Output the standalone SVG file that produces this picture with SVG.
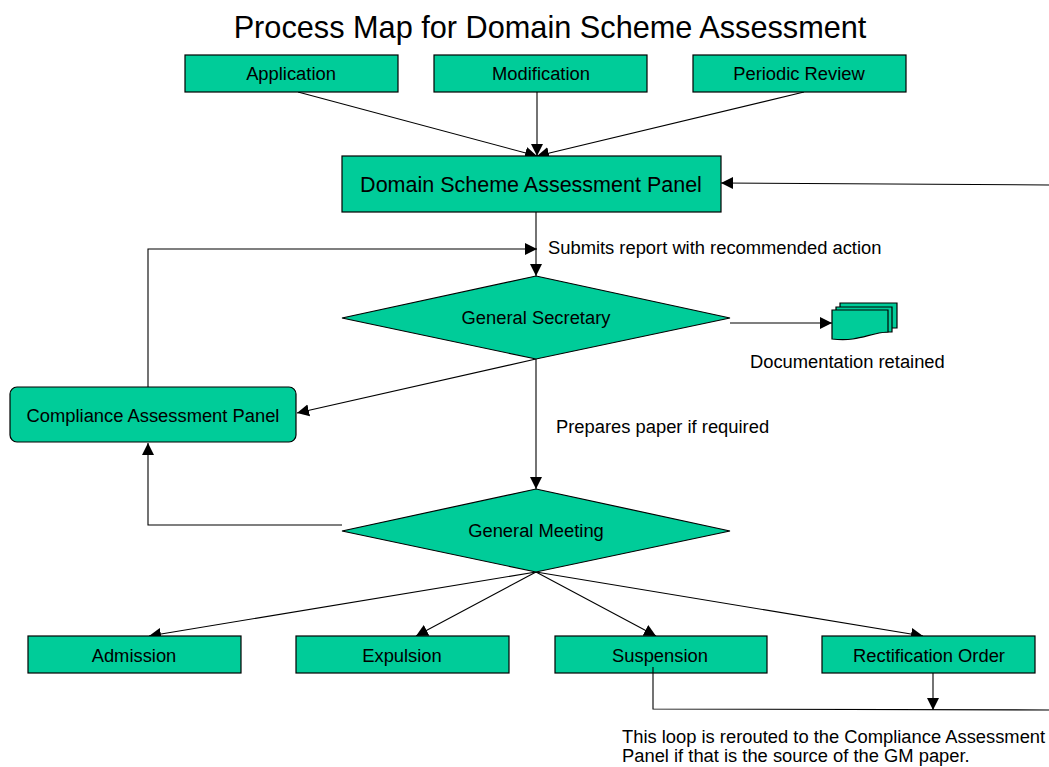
<svg xmlns="http://www.w3.org/2000/svg" width="1049" height="767" viewBox="0 0 1049 767">
<style>
text{font-family:"Liberation Sans",Arial,sans-serif;font-size:18.35px;fill:#000}
.c{text-anchor:middle}
.n{fill:#00cc99;stroke:#000;stroke-width:1.2}
.l{fill:none;stroke:#000;stroke-width:1.1}
.a{marker-end:url(#ah)}
</style>
<defs><marker id="ah" markerUnits="userSpaceOnUse" markerWidth="14" markerHeight="14" refX="12" refY="6.5" orient="auto"><path d="M0 0.5L12 6.5L0 12.5Z" fill="#000"/></marker></defs>
<rect width="1049" height="767" fill="#fff"/>
<text x="550" y="38" class="c" style="font-size:30.7px">Process Map for Domain Scheme Assessment</text>
<g id="connectors">
<path class="l a" d="M298 92L537 156"/>
<path class="l a" d="M537 92V156"/>
<path class="l a" d="M804 92L537 156"/>
<path class="l a" d="M1049 185L721 183"/>
<path class="l a" d="M536 212V276"/>
<path class="l a" d="M148 387V249H537"/>
<path class="l a" d="M730 323H832"/>
<path class="l a" d="M536 359L297 413"/>
<path class="l a" d="M536 359V489"/>
<path class="l a" d="M342 525H148V443"/>
<path class="l a" d="M536 572L149 636"/>
<path class="l a" d="M536 572L416 636"/>
<path class="l a" d="M536 572L656 636"/>
<path class="l a" d="M536 572L923 636"/>
<path class="l a" d="M933 673V710"/>
</g>
<g id="n-application"><rect class="n" x="185" y="55" width="213" height="37"/><text x="291" y="80" class="c">Application</text></g>
<g id="n-modification"><rect class="n" x="434" y="55" width="213" height="37"/><text x="541" y="80" class="c">Modification</text></g>
<g id="n-periodic"><rect class="n" x="693" y="55" width="213" height="37"/><text x="799" y="80" class="c">Periodic Review</text></g>
<g id="n-panel"><rect class="n" x="342" y="156" width="379" height="56"/><text x="531" y="192" class="c" style="font-size:21.5px">Domain Scheme Assessment Panel</text></g>
<g id="n-secretary"><polygon class="n" points="536,276 730,318 536,359 342,318"/><text x="536" y="324" class="c">General Secretary</text></g>
<g id="n-docs">
<path class="n" d="M840 303H897V328H840Z"/>
<path class="n" d="M836 307H892V332H836Z"/>
<path class="n" d="M832 310H888V332C868 333 860 342 832 339Z"/>
</g>
<g id="n-compliance"><rect class="n" x="10" y="387" width="286" height="55" rx="7"/><text x="153" y="422" class="c">Compliance Assessment Panel</text></g>
<g id="n-meeting"><polygon class="n" points="536,489 730,531 536,572 342,531"/><text x="536" y="537" class="c">General Meeting</text></g>
<g id="n-admission"><rect class="n" x="28" y="636" width="213" height="37"/><text x="134" y="662" class="c">Admission</text></g>
<g id="n-expulsion"><rect class="n" x="296" y="636" width="213" height="37"/><text x="402" y="662" class="c">Expulsion</text></g>
<g id="n-suspension"><rect class="n" x="555" y="636" width="212" height="37"/><text x="660" y="662" class="c">Suspension</text></g>
<g id="n-rectification"><rect class="n" x="822" y="636" width="213" height="37"/><text x="929" y="662" class="c">Rectification Order</text></g>
<path class="l" d="M653 667V709L1049 710"/>
<text x="548" y="254">Submits report with recommended action</text>
<text x="750" y="368">Documentation retained</text>
<text x="556" y="433">Prepares paper if required</text>
<text x="622" y="743">This loop is rerouted to the Compliance Assessment</text>
<text x="622" y="762">Panel if that is the source of the GM paper.</text>
</svg>
